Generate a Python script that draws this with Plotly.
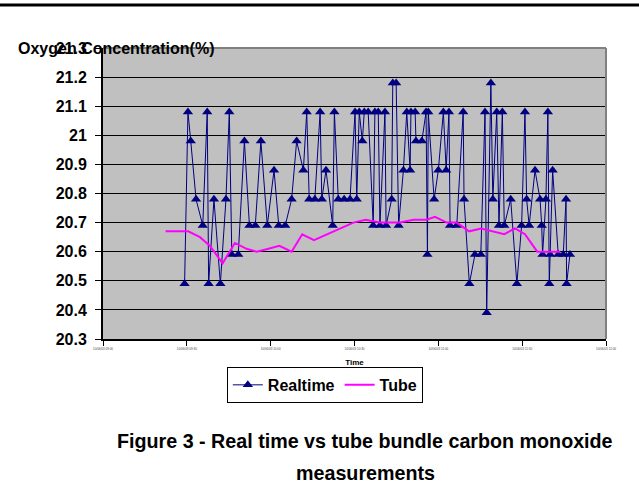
import plotly.graph_objects as go

# ---- data ----
realtime_min = [29.2, 30.4, 31.4, 33.3, 35.7, 37.3, 37.8, 39.7, 42.0, 44.0, 45.2, 46.1, 48.4, 50.6, 52.4,
                54.5, 56.5, 58.8, 61.2, 62.9, 65.2, 67.5, 69.3, 71.7, 72.9, 73.8, 75.8, 77.7, 78.3, 79.8,
                82.2, 82.8, 84.2, 86.3, 88.4, 90.2, 90.8, 91.7, 92.8, 93.5, 94.9, 96.7, 97.3, 98.5, 99.1,
                100.9, 101.3, 103.3, 103.7, 104.9, 105.8, 107.5, 108.7, 109.9, 110.2, 111.7, 112.0, 114.1,
                115.6, 116.1, 116.4, 118.5, 120.0, 121.8, 122.8, 123.8, 124.2, 126.6, 128.9, 129.2, 131.1,
                133.1, 135.2, 136.7, 137.3, 138.8, 139.5, 140.9, 141.7, 142.9, 143.6, 145.9, 148.1, 149.8,
                151.0, 151.6, 152.5, 154.6, 156.4, 157.0, 157.3, 158.5, 159.2, 159.7, 160.0, 160.9, 162.9,
                164.7, 165.7, 165.9, 167.1]
realtime_o2 = [20.49, 21.08, 20.98, 20.78, 20.69, 21.08, 20.49, 20.78, 20.49, 20.78, 21.08, 20.59, 20.59, 20.98, 20.69,
               20.69, 20.98, 20.69, 20.88, 20.69, 20.69, 20.78, 20.98, 20.88, 21.08, 20.78, 20.78, 21.08, 20.78, 20.88,
               20.69, 21.08, 20.78, 20.78, 20.78, 21.08, 20.78, 21.08, 20.98, 21.08, 21.08, 20.69, 21.08, 21.08, 20.69,
               21.08, 20.69, 20.78, 21.18, 21.18, 20.69, 20.88, 21.08, 20.88, 21.08, 21.08, 20.98, 20.98,
               21.08, 20.59, 21.08, 20.78, 20.88, 21.08, 20.88, 21.08, 20.69, 20.69, 21.08, 20.78, 20.49,
               20.59, 20.59, 21.08, 20.39, 21.18, 20.78, 21.08, 20.69, 21.08, 20.69, 20.78, 20.49, 20.69,
               21.08, 20.78, 20.69, 20.88, 20.78, 20.69, 20.59, 20.78, 21.08, 20.49, 20.59, 20.88, 20.59,
               20.59, 20.78, 20.49, 20.59]

tube_min = [22.4, 30.5, 34.7, 38.3, 42.8, 47.2, 51.4, 55.0, 59.2, 63.1, 67.5, 71.3, 75.5, 89.6, 94.0,
            99.1, 106.3, 111.1, 115.8, 118.8, 123.0, 126.6, 131.0, 135.3, 143.6, 147.4, 151.0, 155.4, 161.2, 163.6]
tube_o2 = [20.67, 20.67, 20.65, 20.62, 20.56, 20.63, 20.61, 20.60, 20.61, 20.62, 20.60, 20.66, 20.64, 20.70, 20.71,
           20.70, 20.70, 20.71, 20.71, 20.72, 20.70, 20.70, 20.67, 20.68, 20.66, 20.68, 20.66, 20.60, 20.60, 20.60]

x_tick_vals = [0, 30, 60, 90, 120, 150, 180]
x_tick_text = ["10/06/03 09:00", "10/06/03 09:30", "10/06/03 10:00", "10/06/03 10:30",
               "10/06/03 11:00", "10/06/03 11:30", "10/06/03 12:00"]
y_tick_vals = [20.3, 20.4, 20.5, 20.6, 20.7, 20.8, 20.9, 21.0, 21.1, 21.2, 21.3]
y_tick_text = ["20.3", "20.4", "20.5", "20.6", "20.7", "20.8", "20.9", "21", "21.1", "21.2", "21.3"]

FONT = "Liberation Sans, Arial, sans-serif"

fig = go.Figure()
fig.add_trace(go.Scatter(
    x=realtime_min, y=realtime_o2, name="Realtime", mode="lines+markers",
    line=dict(color="#000080", width=1),
    marker=dict(symbol="triangle-up", size=9, color="#000080"),
))
fig.add_trace(go.Scatter(
    x=tube_min, y=tube_o2, name="Tube", mode="lines",
    line=dict(color="#FF00FF", width=2),
))

fig.update_layout(
    width=639, height=486,
    margin=dict(l=103, r=33, t=48, b=147),
    paper_bgcolor="white", plot_bgcolor="#C0C0C0",
    font=dict(family=FONT, color="black"),
    showlegend=True,
    legend=dict(
        orientation="h", x=0.441, xanchor="center", y=-0.096, yanchor="top",
        bgcolor="white", bordercolor="black", borderwidth=1,
        font=dict(family=FONT, size=16, weight="bold", color="black"),
        itemwidth=30, tracegroupgap=0,
    ),
    xaxis=dict(
        range=[0, 180], tickmode="array", tickvals=x_tick_vals, ticktext=x_tick_text,
        showgrid=False, zeroline=False, showline=True, linecolor="black", linewidth=2,
        ticks="outside", ticklen=5, tickcolor="black", tickwidth=1,
        tickfont=dict(family=FONT, size=3, color="#444"),
        title=dict(text="Time", font=dict(family=FONT, size=8, weight="bold"), standoff=10),
    ),
    yaxis=dict(
        range=[20.3, 21.3], tickmode="array", tickvals=y_tick_vals, ticktext=y_tick_text,
        showgrid=True, gridcolor="black", gridwidth=1, zeroline=False,
        showline=True, linecolor="black", linewidth=2,
        ticks="outside", ticklen=6, tickcolor="black", tickwidth=1,
        ticklabelstandoff=5,
        tickfont=dict(family=FONT, size=16, weight="bold", color="black"),
    ),
)

# plot frame top/right (gray)
fig.add_shape(type="line", xref="paper", yref="paper", x0=0, x1=1, y0=1, y1=1,
              line=dict(color="#808080", width=2), layer="above")
fig.add_shape(type="line", xref="paper", yref="paper", x0=1, x1=1, y0=0, y1=1,
              line=dict(color="#808080", width=2), layer="above")
# top rule of the page
fig.add_shape(type="line", xref="paper", yref="paper", x0=-0.205, x1=1.066, y0=1.1478, y1=1.1478,
              line=dict(color="black", width=3))

fig.add_annotation(text="Oxygen Concentration(%)", xref="paper", yref="paper",
                   x=-0.173, y=1.0, xanchor="left", yanchor="middle", showarrow=False,
                   font=dict(family=FONT, size=16, weight="bold", color="black"))
fig.add_annotation(text="Figure 3 - Real time vs tube bundle carbon monoxide", xref="paper", yref="paper",
                   x=0.521, y=-0.349, xanchor="center", yanchor="middle", showarrow=False,
                   font=dict(family=FONT, size=19.7, weight="bold", color="black"))
fig.add_annotation(text="measurements", xref="paper", yref="paper",
                   x=0.521, y=-0.459, xanchor="center", yanchor="middle", showarrow=False,
                   font=dict(family=FONT, size=19.7, weight="bold", color="black"))

fig.write_html("out.html")
